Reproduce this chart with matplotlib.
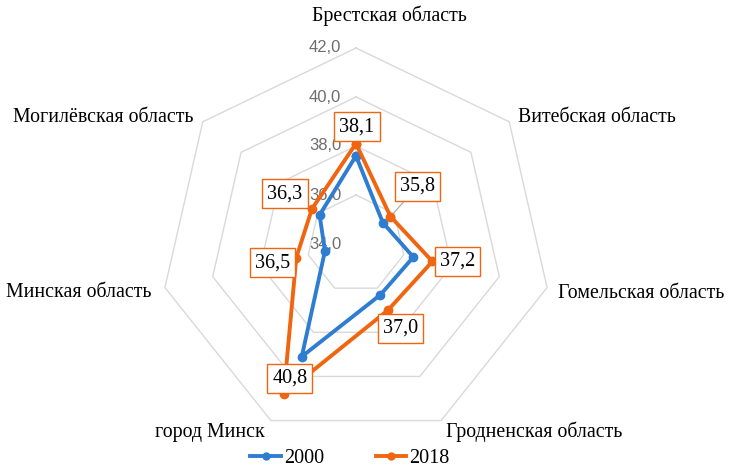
import numpy as np
import matplotlib
matplotlib.use("Agg")
import matplotlib.pyplot as plt
from matplotlib.lines import Line2D

categories = ["Брестская область", "Витебская область", "Гомельская область",
              "Гродненская область", "город Минск", "Минская область",
              "Могилёвская область"]
values_2000 = [37.6, 35.4, 36.4, 36.3, 39.1, 35.3, 35.9]
values_2018 = [38.1, 35.8, 37.2, 37.0, 40.8, 36.5, 36.3]
r_ticks = [34, 36, 38, 40, 42]

BLUE = "#2e7dd1"
ORANGE = "#f0650f"
GRID = "#d9d9d9"
SERIF = ["Liberation Serif", "DejaVu Serif"]

W, H = 729, 469
fig = plt.figure(figsize=(W / 100, H / 100), dpi=100)
cx, cy, R = 356, 244, 196
ax = fig.add_axes([(cx - R) / W, (H - cy - R) / H, 2 * R / W, 2 * R / H],
                  projection="polar")
ax.set_theta_zero_location("N")
ax.set_theta_direction(-1)
ax.set_ylim(34, 42)
ax.grid(False)
ax.spines["polar"].set_visible(False)
ax.set_xticks([])
ax.set_yticks([])
ax.patch.set_alpha(0)

n = len(categories)
theta = np.arange(n) * 2 * np.pi / n
theta_c = np.append(theta, theta[0])

# polygon grid
for r in r_ticks[1:]:
    ax.plot(theta_c, [r] * (n + 1), color=GRID, lw=1.0, zorder=1, clip_on=False)

# radial tick labels
for r in r_ticks:
    ax.annotate(f"{r:.1f}".replace(".", ","), xy=(0, r), xytext=(-31, 0),
                textcoords="offset pixels", ha="center", va="center",
                fontsize=12, color="#6e6e6e", family=["Liberation Sans"],
                annotation_clip=False, zorder=2)

# series
v00 = np.append(values_2000, values_2000[0])
v18 = np.append(values_2018, values_2018[0])
ax.plot(theta_c, v00, color=BLUE, lw=2.8, marker="o", ms=6, zorder=4, clip_on=False)
ax.plot(theta_c, v18, color=ORANGE, lw=2.8, marker="o", ms=6, zorder=5, clip_on=False)

# data labels for 2018
label_offsets = [(1, 17), (27, 30), (25, 0), (13, -18), (6, 16), (-24, -5), (-27, 15)]
for i, (t, v) in enumerate(zip(theta, values_2018)):
    dx, dy = label_offsets[i]
    arrow = None
    if i == 1:
        arrow = dict(arrowstyle="-", color="#a6a6a6", lw=0.8, shrinkA=0, shrinkB=3)
    ax.annotate(f"{v:.1f}".replace(".", ","), xy=(t, v), xytext=(dx, dy),
                textcoords="offset pixels", ha="center", va="center",
                fontsize=14.5, family=SERIF, color="black",
                bbox=dict(boxstyle="square,pad=0.25", fc="white", ec=ORANGE, lw=1.0),
                arrowprops=arrow, annotation_clip=False, zorder=6)

# category labels (pixel centers from reference)
cat_pos = [(389, 16), (597, 118), (641, 293), (534, 432), (210, 432), (79, 292), (103, 118)]
for name, (px, py) in zip(categories, cat_pos):
    fig.text(px / W, 1 - py / H, name, ha="center", va="center",
             fontsize=14.3, family=SERIF, color="black")

handles = [Line2D([0], [0], color=BLUE, lw=2.8, marker="o", ms=5),
           Line2D([0], [0], color=ORANGE, lw=2.8, marker="o", ms=5)]
fig.legend(handles, ["2000", "2018"], loc="center", bbox_to_anchor=(350 / W, 1 - 458 / H),
           ncol=2, frameon=False, prop={"family": SERIF, "size": 14.5},
           handlelength=1.5, handletextpad=0.15, columnspacing=2.6)

fig.savefig("out.png", dpi=100)
